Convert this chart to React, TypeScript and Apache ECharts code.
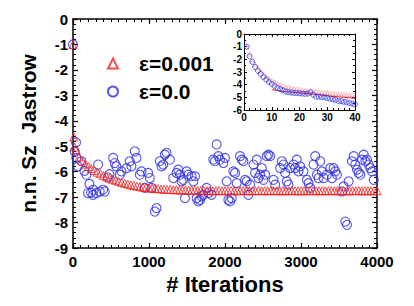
import React, { useEffect, useRef } from "react";
import * as echarts from "echarts";

const mainXTicks = [0, 1000, 2000, 3000, 4000];
const mainYTicks = [0, -1, -2, -3, -4, -5, -6, -7, -8, -9];

// red (eps=0.001) main series: [iteration, value]
const redIter = [0, 10, 20, 40, 80, 120, 160, 200, 240, 280, 320, 360, 400, 440, 480, 520, 560, 600, 640, 680, 720, 760, 800, 840, 880, 920, 960, 1000, 1040, 1080, 1120, 1160, 1200, 1240, 1280, 1320, 1360, 1400, 1440, 1480, 1520, 1560, 1600, 1640, 1680, 1720, 1760, 1800, 1840, 1880, 1920, 1960, 2000, 2040, 2080, 2120, 2160, 2200, 2240, 2280, 2320, 2360, 2400, 2440, 2480, 2520, 2560, 2600, 2640, 2680, 2720, 2760, 2800, 2840, 2880, 2920, 2960, 3000, 3040, 3080, 3120, 3160, 3200, 3240, 3280, 3320, 3360, 3400, 3440, 3480, 3520, 3560, 3600, 3640, 3680, 3720, 3760, 3800, 3840, 3880, 3920, 3960, 4000];
const redVal = [-1.0, -4.63, -5.03, -5.15, -5.42, -5.58, -5.70, -5.80, -5.88, -5.95, -6.02, -6.08, -6.15, -6.20, -6.25, -6.30, -6.34, -6.38, -6.42, -6.46, -6.49, -6.52, -6.54, -6.57, -6.59, -6.61, -6.62, -6.64, -6.65, -6.66, -6.67, -6.68, -6.69, -6.70, -6.70, -6.71, -6.71, -6.72, -6.72, -6.72, -6.73, -6.73, -6.73, -6.74, -6.74, -6.74, -6.74, -6.75, -6.75, -6.75, -6.74, -6.75, -6.75, -6.75, -6.74, -6.75, -6.75, -6.75, -6.74, -6.75, -6.75, -6.75, -6.75, -6.74, -6.75, -6.75, -6.75, -6.75, -6.74, -6.75, -6.75, -6.75, -6.75, -6.75, -6.74, -6.75, -6.75, -6.75, -6.75, -6.75, -6.74, -6.75, -6.75, -6.75, -6.75, -6.75, -6.75, -6.74, -6.75, -6.75, -6.75, -6.75, -6.75, -6.75, -6.75, -6.74, -6.75, -6.75, -6.75, -6.75, -6.75, -6.75, -6.75];

// blue (eps=0.0) main series
const blueIter = [0, 22, 40, 44, 66, 110, 150, 176, 198, 216, 237, 264, 264, 308, 330, 352, 396, 418, 458, 480, 528, 550, 571, 615, 637, 703, 747, 769, 813, 835, 879, 901, 945, 989, 1011, 1033, 1077, 1099, 1143, 1165, 1187, 1209, 1231, 1275, 1319, 1363, 1385, 1407, 1429, 1451, 1473, 1495, 1517, 1561, 1583, 1605, 1627, 1649, 1670, 1692, 1714, 1758, 1780, 1824, 1846, 1868, 1890, 1912, 1934, 1978, 2000, 2022, 2044, 2066, 2088, 2110, 2132, 2154, 2198, 2220, 2242, 2264, 2286, 2308, 2330, 2374, 2396, 2418, 2440, 2462, 2484, 2506, 2528, 2550, 2572, 2594, 2638, 2660, 2726, 2748, 2770, 2792, 2813, 2835, 2857, 2901, 2923, 2945, 2967, 2989, 3033, 3077, 3099, 3121, 3165, 3187, 3209, 3231, 3253, 3275, 3297, 3341, 3385, 3407, 3429, 3451, 3473, 3539, 3561, 3583, 3605, 3627, 3671, 3693, 3715, 3737, 3759, 3781, 3803, 3825, 3847, 3869, 3891, 3913, 3935, 3957];
const blueVal = [-1.0, -5.20, -4.85, -5.46, -5.79, -5.59, -5.97, -6.12, -6.84, -6.48, -6.83, -6.91, -6.71, -6.84, -5.72, -6.78, -6.71, -6.78, -6.23, -6.10, -5.46, -5.66, -5.79, -6.12, -5.99, -5.86, -5.59, -5.79, -5.20, -5.46, -6.12, -5.99, -6.64, -6.05, -6.25, -6.64, -7.57, -7.43, -5.59, -5.79, -5.72, -5.33, -5.26, -5.53, -6.25, -6.05, -5.92, -6.12, -6.38, -6.32, -7.04, -5.99, -6.12, -6.18, -6.38, -6.18, -7.04, -7.17, -7.11, -6.97, -6.91, -6.64, -6.84, -6.91, -5.53, -5.59, -4.93, -5.39, -5.53, -5.66, -5.46, -6.38, -7.11, -7.17, -7.04, -5.99, -6.05, -6.45, -5.39, -5.53, -5.59, -6.32, -6.38, -6.91, -6.51, -5.72, -6.05, -5.53, -6.25, -6.12, -5.86, -6.32, -6.12, -5.39, -5.33, -5.39, -6.32, -6.51, -5.86, -5.59, -5.72, -6.05, -6.38, -6.51, -5.86, -5.72, -5.86, -5.53, -5.99, -5.79, -5.99, -6.32, -6.45, -6.64, -5.72, -5.39, -6.12, -6.25, -5.59, -5.99, -6.25, -6.12, -5.86, -6.25, -5.86, -5.99, -6.12, -6.78, -6.58, -7.96, -8.09, -6.38, -5.59, -5.39, -5.72, -5.92, -6.05, -6.12, -5.53, -5.33, -5.59, -5.53, -5.72, -5.86, -5.99, -6.32];

// inset (first 40 iterations)
const insetIter = [1, 2, 3, 4, 5, 6, 7, 8, 9, 10, 11, 12, 13, 14, 15, 16, 17, 18, 19, 20, 21, 22, 23, 24, 25, 26, 27, 28, 29, 30, 31, 32, 33, 34, 35, 36, 37, 38, 39, 40];
const insetBlue = [-1.0, -1.75, -2.2, -2.6, -2.9, -3.15, -3.4, -3.6, -3.8, -3.95, -4.1, -4.25, -4.35, -4.45, -4.55, -4.6, -4.62, -4.65, -4.66, -4.68, -4.7, -4.72, -4.7, -4.6, -4.8, -4.95, -4.95, -4.98, -5.0, -5.05, -5.1, -5.15, -5.2, -5.28, -5.3, -5.35, -5.4, -5.45, -5.5, -5.55];
const insetRed = [-1.0, -1.6, -2.05, -2.4, -2.7, -2.95, -3.15, -3.35, -3.5, -3.65, -3.78, -3.9, -4.0, -4.08, -4.15, -4.2, -4.25, -4.3, -4.33, -4.37, -4.4, -4.43, -4.46, -4.48, -4.5, -4.53, -4.56, -4.58, -4.6, -4.63, -4.65, -4.68, -4.7, -4.72, -4.74, -4.76, -4.78, -4.8, -4.82, -4.85];
const insetLineIter = [10, 15, 20, 25, 30, 35, 40];
const insetLineVal = [-4.4, -4.55, -4.65, -4.75, -4.88, -4.98, -5.08];

const RED = "#f02020";
const BLUE = "#2a2ae6";
const FONT = "Liberation Sans, Arial, sans-serif";

export default function App() {
  const ref = useRef<HTMLDivElement>(null);
  useEffect(() => {
    if (!ref.current) return;
    document.body.style.margin = "0";
    const chart = echarts.init(ref.current, undefined, { renderer: "svg" });
    const zip = (a: number[], b: number[]) => a.map((v, i) => [v, b[i]]);
    const lineStyle = { color: "#000", width: 1.5 };
    const mainLabel = { color: "#000", fontWeight: "bold" as const, fontSize: 15, fontFamily: FONT };
    const insetLabel = { color: "#000", fontWeight: "bold" as const, fontSize: 10, fontFamily: FONT };
    const mainTick = { show: true, inside: true, length: 5, lineStyle: { color: "#000", width: 1.2 } };
    const insetTick = { show: true, inside: true, length: 3, lineStyle: { color: "#000", width: 1 } };
    const minor = (n: number, len: number) => ({ show: true, splitNumber: n, length: len, lineStyle: { color: "#000", width: 1 } });
    const plain = (v: number) => String(v);

    chart.setOption({
      animation: false,
      backgroundColor: "#fff",
      legend: {
        show: true,
        orient: "vertical",
        left: 102,
        top: 48,
        itemWidth: 10,
        itemHeight: 10,
        itemGap: 7,
        data: ["ε=0.001", "ε=0.0"],
        textStyle: { fontSize: 21, fontWeight: "bold", color: "#000", fontFamily: FONT, padding: [0, 0, 0, 16] },
      },
      grid: [
        { left: 73, top: 19, width: 304, height: 229 },
        { left: 244, top: 34, width: 111, height: 76, show: true, backgroundColor: "#fff", borderWidth: 0, z: 5 },
      ],
      xAxis: [
        {
          gridIndex: 0, type: "value", min: 0, max: 4000, interval: 1000, position: "bottom",
          axisLine: { show: true, onZero: false, lineStyle }, axisTick: mainTick, minorTick: minor(10, 3),
          axisLabel: { ...mainLabel, margin: 6, formatter: plain }, splitLine: { show: false },
          name: "# Iterations", nameLocation: "middle", nameGap: 25,
          nameTextStyle: { fontSize: 22, fontWeight: "bold", color: "#000", fontFamily: FONT },
        },
        {
          gridIndex: 0, type: "value", min: 0, max: 4000, interval: 1000, position: "top",
          axisLine: { show: true, onZero: false, lineStyle }, axisTick: mainTick, minorTick: minor(10, 3),
          axisLabel: { show: false }, splitLine: { show: false },
        },
        {
          gridIndex: 1, type: "value", min: 0, max: 40, interval: 10, position: "bottom",
          axisLine: { show: true, onZero: false, lineStyle: { color: "#000", width: 1 } }, axisTick: insetTick, minorTick: minor(5, 2),
          axisLabel: { ...insetLabel, margin: 2, formatter: plain }, splitLine: { show: false }, z: 6,
        },
        {
          gridIndex: 1, type: "value", min: 0, max: 40, interval: 10, position: "top",
          axisLine: { show: true, onZero: false, lineStyle: { color: "#000", width: 1 } }, axisTick: insetTick, minorTick: minor(5, 2),
          axisLabel: { show: false }, splitLine: { show: false }, z: 6,
        },
      ],
      yAxis: [
        {
          gridIndex: 0, type: "value", min: -9, max: 0, interval: 1, position: "left",
          axisLine: { show: true, onZero: false, lineStyle }, axisTick: mainTick, minorTick: minor(5, 3),
          axisLabel: { ...mainLabel, margin: 5, formatter: plain }, splitLine: { show: false },
          name: "n.n. Sz  Jastrow", nameLocation: "middle", nameGap: 34,
          nameTextStyle: { fontSize: 21, fontWeight: "bold", color: "#000", fontFamily: FONT },
        },
        {
          gridIndex: 0, type: "value", min: -9, max: 0, interval: 1, position: "right",
          axisLine: { show: true, onZero: false, lineStyle }, axisTick: mainTick, minorTick: minor(5, 3),
          axisLabel: { show: false }, splitLine: { show: false },
        },
        {
          gridIndex: 1, type: "value", min: -6, max: 0, interval: 1, position: "left",
          axisLine: { show: true, onZero: false, lineStyle: { color: "#000", width: 1 } }, axisTick: insetTick, minorTick: minor(2, 2),
          axisLabel: { ...insetLabel, margin: 2, formatter: plain }, splitLine: { show: false }, z: 6,
        },
        {
          gridIndex: 1, type: "value", min: -6, max: 0, interval: 1, position: "right",
          axisLine: { show: true, onZero: false, lineStyle: { color: "#000", width: 1 } }, axisTick: insetTick, minorTick: minor(2, 2),
          axisLabel: { show: false }, splitLine: { show: false }, z: 6,
        },
      ],
      series: [
        {
          name: "ε=0.0", type: "scatter", xAxisIndex: 0, yAxisIndex: 0,
          data: zip(blueIter, blueVal), symbol: "circle", symbolSize: 9,
          itemStyle: { color: "rgba(0,0,0,0)", borderColor: BLUE, borderWidth: 1.1 },
          z: 2,
        },
        {
          name: "ε=0.001", type: "scatter", xAxisIndex: 0, yAxisIndex: 0,
          data: zip(redIter, redVal), symbol: "triangle", symbolSize: 8,
          itemStyle: { color: "rgba(0,0,0,0)", borderColor: RED, borderWidth: 1 },
          z: 3,
        },
        {
          name: "inset red", type: "scatter", xAxisIndex: 2, yAxisIndex: 2,
          data: zip(insetIter, insetRed), symbol: "triangle", symbolSize: 4,
          itemStyle: { color: "rgba(0,0,0,0)", borderColor: "rgba(240,80,80,0.55)", borderWidth: 0.8 },
          z: 7,
        },
        {
          name: "inset line", type: "line", xAxisIndex: 2, yAxisIndex: 2,
          data: zip(insetLineIter, insetLineVal), showSymbol: false, symbol: "none",
          lineStyle: { color: RED, width: 1 }, z: 7,
        },
        {
          name: "inset blue", type: "scatter", xAxisIndex: 2, yAxisIndex: 2,
          data: zip(insetIter, insetBlue), symbol: "circle", symbolSize: 5,
          itemStyle: { color: "rgba(0,0,0,0)", borderColor: BLUE, borderWidth: 0.9 },
          z: 8,
        },
      ],
    });
    return () => chart.dispose();
  }, []);
  return <div ref={ref} style={{ width: 414, height: 306 }} />;
}
